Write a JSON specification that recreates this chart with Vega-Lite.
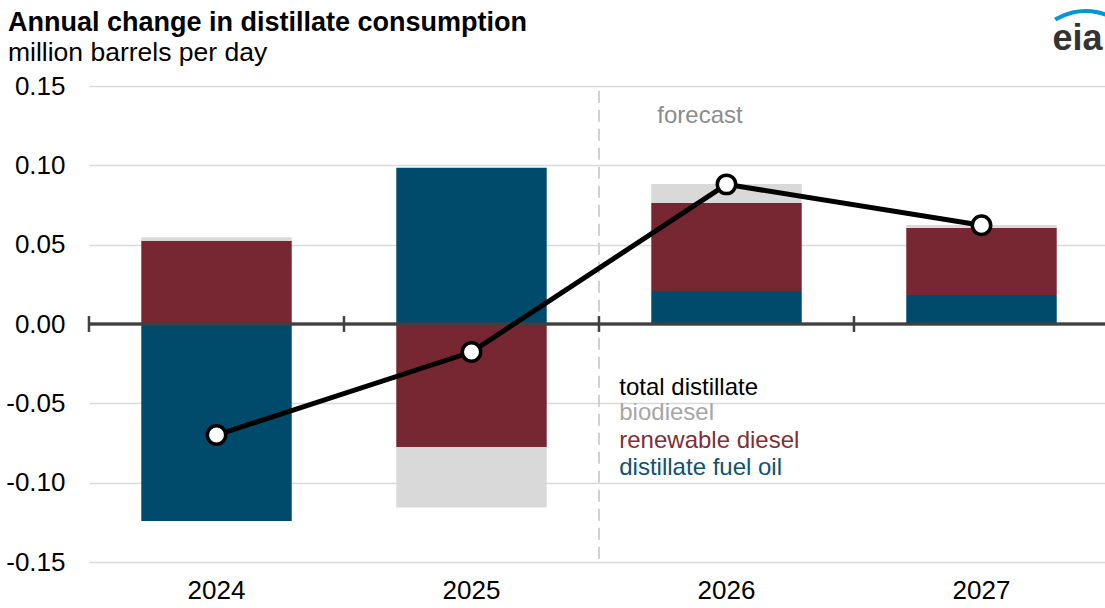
{
  "$schema": "https://vega.github.io/schema/vega-lite/v6.json",
  "width": 1020,
  "height": 476,
  "autosize": {"type": "none"},
  "padding": {"left": 89, "top": 86, "right": 0, "bottom": 46},
  "background": "white",
  "config": {"font": "Liberation Sans", "view": {"stroke": null}},
  "title": {
    "text": "Annual change in distillate consumption",
    "subtitle": "million barrels per day",
    "anchor": "start",
    "frame": "group",
    "dx": -81,
    "offset": -58,
    "fontSize": 27,
    "fontWeight": "bold",
    "color": "#000000",
    "subtitleFontSize": 26.5,
    "subtitleColor": "#000000",
    "subtitlePadding": 3,
    "font": "Liberation Sans",
    "subtitleFont": "Liberation Sans"
  },
  "datasets": {
    "components": [
      {"year": "2024", "series": "distillate fuel oil", "ord": 1, "value": -0.1242},
      {"year": "2024", "series": "renewable diesel", "ord": 2, "value": 0.0525},
      {"year": "2024", "series": "biodiesel", "ord": 3, "value": 0.0022},
      {"year": "2025", "series": "distillate fuel oil", "ord": 1, "value": 0.0984},
      {"year": "2025", "series": "renewable diesel", "ord": 2, "value": -0.0777},
      {"year": "2025", "series": "biodiesel", "ord": 3, "value": -0.0379},
      {"year": "2026", "series": "distillate fuel oil", "ord": 1, "value": 0.0208},
      {"year": "2026", "series": "renewable diesel", "ord": 2, "value": 0.0555},
      {"year": "2026", "series": "biodiesel", "ord": 3, "value": 0.0120},
      {"year": "2027", "series": "distillate fuel oil", "ord": 1, "value": 0.0183},
      {"year": "2027", "series": "renewable diesel", "ord": 2, "value": 0.0422},
      {"year": "2027", "series": "biodiesel", "ord": 3, "value": 0.0019}
    ],
    "totals": [
      {"year": "2024", "total": -0.0700},
      {"year": "2025", "total": -0.0177},
      {"year": "2026", "total": 0.0880},
      {"year": "2027", "total": 0.0622}
    ]
  },
  "layer": [
    {
      "data": {"name": "components"},
      "mark": {"type": "bar"},
      "encoding": {
        "x": {
          "field": "year",
          "type": "nominal",
          "scale": {"type": "band", "domain": ["2024", "2025", "2026", "2027"], "paddingInner": 0.41, "paddingOuter": 0.205},
          "axis": {
            "title": null,
            "domain": false,
            "ticks": false,
            "labelAngle": 0,
            "labelFontSize": 26,
            "labelColor": "#000000",
            "labelPadding": 15,
            "grid": false
          }
        },
        "y": {
          "field": "value",
          "type": "quantitative",
          "aggregate": "sum",
          "stack": "zero",
          "scale": {"domain": [-0.15, 0.15], "nice": false, "zero": false},
          "axis": {
            "title": null,
            "values": [-0.15, -0.1, -0.05, 0, 0.05, 0.1, 0.15],
            "labelExpr": "(datum.value < 0 ? '-' : '') + format(abs(datum.value), '.2f')",
            "domain": false,
            "ticks": false,
            "labelFontSize": 26,
            "labelColor": "#000000",
            "labelPadding": 24,
            "grid": true,
            "gridColor": "#d9d9d9",
            "gridWidth": 1.5
          }
        },
        "color": {
          "field": "series",
          "type": "nominal",
          "scale": {"domain": ["distillate fuel oil", "renewable diesel", "biodiesel"], "range": ["#004b6b", "#772731", "#d9d9d9"]},
          "legend": null
        },
        "order": {"field": "ord", "type": "quantitative"}
      }
    },
    {
      "data": {"values": [{"year": "2026", "label": "forecast"}]},
      "mark": {"type": "rule", "color": "#d0d0d0", "strokeWidth": 2, "strokeDash": [12, 7], "xOffset": -52.3},
      "encoding": {
        "x": {"field": "year", "type": "nominal", "bandPosition": 0},
        "y": {"datum": 0.147},
        "y2": {"datum": -0.15}
      }
    },
    {
      "data": {"values": [{"year": "2026", "label": "forecast"}]},
      "mark": {"type": "text", "align": "left", "baseline": "alphabetic", "fontSize": 24, "color": "#8c8c8c", "xOffset": 6},
      "encoding": {
        "x": {"field": "year", "type": "nominal", "bandPosition": 0},
        "y": {"datum": 0.1267},
        "text": {"field": "label"}
      }
    },
    {
      "data": {"name": "totals"},
      "mark": {"type": "rule", "color": "#404040", "strokeWidth": 2.5},
      "encoding": {
        "y": {"datum": 0}
      }
    },
    {
      "data": {"name": "totals"},
      "mark": {"type": "rule", "color": "#404040", "strokeWidth": 2.5, "xOffset": -52.3},
      "encoding": {
        "x": {"field": "year", "type": "nominal", "bandPosition": 0},
        "y": {"datum": 0.005},
        "y2": {"datum": -0.005}
      }
    },
    {
      "data": {"name": "totals"},
      "mark": {"type": "line", "color": "#000000", "strokeWidth": 5},
      "encoding": {
        "x": {"field": "year", "type": "nominal"},
        "y": {"field": "total", "type": "quantitative"}
      }
    },
    {
      "data": {"name": "totals"},
      "mark": {"type": "point", "shape": "circle", "size": 340, "filled": true, "fill": "#ffffff", "stroke": "#000000", "strokeWidth": 3.5, "opacity": 1},
      "encoding": {
        "x": {"field": "year", "type": "nominal"},
        "y": {"field": "total", "type": "quantitative"}
      }
    },
    {
      "data": {"values": [{"year": "2026", "label": "total distillate"}]},
      "mark": {"type": "text", "align": "left", "baseline": "alphabetic", "fontSize": 24, "color": "#000000", "xOffset": -32},
      "encoding": {
        "x": {"field": "year", "type": "nominal", "bandPosition": 0},
        "y": {"datum": -0.0447},
        "text": {"field": "label"}
      }
    },
    {
      "data": {"values": [{"year": "2026", "label": "biodiesel"}]},
      "mark": {"type": "text", "align": "left", "baseline": "alphabetic", "fontSize": 24, "color": "#a6a6a6", "xOffset": -32},
      "encoding": {
        "x": {"field": "year", "type": "nominal", "bandPosition": 0},
        "y": {"datum": -0.0605},
        "text": {"field": "label"}
      }
    },
    {
      "data": {"values": [{"year": "2026", "label": "renewable diesel"}]},
      "mark": {"type": "text", "align": "left", "baseline": "alphabetic", "fontSize": 24, "color": "#7e2f38", "xOffset": -32},
      "encoding": {
        "x": {"field": "year", "type": "nominal", "bandPosition": 0},
        "y": {"datum": -0.0781},
        "text": {"field": "label"}
      }
    },
    {
      "data": {"values": [{"year": "2026", "label": "distillate fuel oil"}]},
      "mark": {"type": "text", "align": "left", "baseline": "alphabetic", "fontSize": 24, "color": "#0e5272", "xOffset": -32},
      "encoding": {
        "x": {"field": "year", "type": "nominal", "bandPosition": 0},
        "y": {"datum": -0.0951},
        "text": {"field": "label"}
      }
    },
    {
      "data": {"values": [{"year": "2027", "label": "eia"}]},
      "mark": {"type": "arc", "theta": -0.55, "theta2": 0.75, "radius": 60, "radius2": 56, "fill": "#0096d6", "xOffset": 104},
      "encoding": {
        "x": {"field": "year", "type": "nominal", "bandPosition": 0.5},
        "y": {"datum": 0.1607}
      }
    },
    {
      "data": {"values": [{"year": "2027", "label": "eia"}]},
      "mark": {"type": "text", "align": "center", "baseline": "alphabetic", "fontSize": 36, "fontWeight": "bold", "color": "#333333", "xOffset": 96},
      "encoding": {
        "x": {"field": "year", "type": "nominal", "bandPosition": 0.5},
        "y": {"datum": 0.1727},
        "text": {"field": "label"}
      }
    }
  ]
}
